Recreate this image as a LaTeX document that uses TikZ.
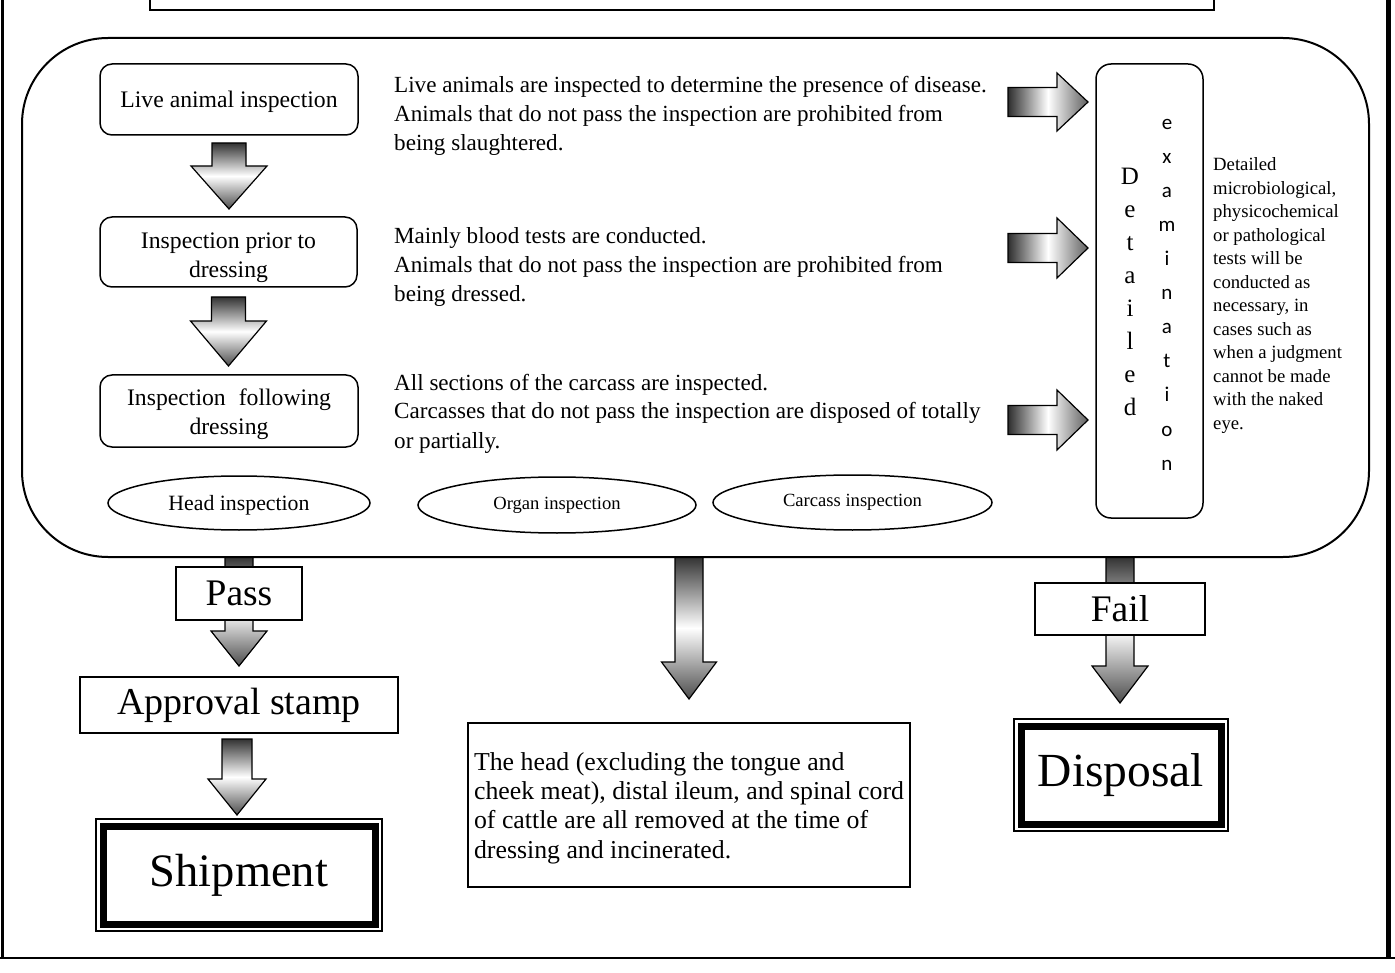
\documentclass[tikz,border=0pt]{standalone}
\usepackage{fontspec}
\setmainfont{Liberation Serif}
\newfontfamily\calib{Carlito}
\usetikzlibrary{calc,shapes.geometric}
\pgfdeclarelayer{bg}
\pgfsetlayers{bg,main}
\newcommand\fs[2]{\fontsize{#1}{#2}\selectfont}
% vertical arrow: from, tip, shaft half width, head half width, head length
\newcommand\vArrow[5]{%
  \begin{pgfonlayer}{bg}
  \path[vshade] let \p1=#1, \p2=#2 in
    (\x1-#3pt,\y1) -- (\x1+#3pt,\y1) -- (\x1+#3pt,\y2+#5pt) -- (\x1+#4pt,\y2+#5pt)
    -- (\x1,\y2) -- (\x1-#4pt,\y2+#5pt) -- (\x1-#3pt,\y2+#5pt) -- cycle;
  \end{pgfonlayer}}
% horizontal arrow: from, tip, shaft half height, head half height, head length
\newcommand\hArrow[5]{%
  \begin{pgfonlayer}{bg}
  \path[hshade] let \p1=#1, \p2=#2 in
    (\x1,\y1+#3pt) -- (\x2-#5pt,\y1+#3pt) -- (\x2-#5pt,\y1+#4pt) -- (\x2,\y1)
    -- (\x2-#5pt,\y1-#4pt) -- (\x2-#5pt,\y1-#3pt) -- (\x1,\y1-#3pt) -- cycle;
  \end{pgfonlayer}}
\begin{document}
\begin{tikzpicture}[x=1pt,y=-1pt,
  box/.style={draw, line width=1.5pt, rounded corners=12pt, inner sep=0pt, outer sep=0pt, align=center, font=\fs{23.7}{29}},
  sq/.style={draw, line width=1.5pt, inner sep=0pt, outer sep=0pt, align=center, fill=white},
  oval/.style={draw, ellipse, line width=1.5pt, inner sep=0pt, outer sep=0pt},
  vshade/.style={draw, line width=1.2pt, top color=black!80, bottom color=black!70, middle color=white},
  hshade/.style={draw, line width=1.2pt, left color=black!82, right color=black!62, middle color=white},
  desc/.style={anchor=base west, align=left, inner sep=0pt, font=\fs{23.1}{29}},
  dbl/.style={sq, line width=1.5pt},
  thickband/.style={line width=7pt}
]
\useasboundingbox (0,0) rectangle (1395,973);
% outer frame
\draw[line width=3pt] (2.5,-5) -- (2.5,958);
\draw[line width=5pt] (1388,-5) -- (1388,958);
\draw[line width=2.5pt] (0,958) -- (1395,958);
% top box
\node[draw, line width=1.5pt, minimum width=1064pt, minimum height=20pt, inner sep=0pt, outer sep=0pt] (topbox) at (682,0) {};
% main rounded frame
\node[draw, line width=2pt, rounded corners=86pt, minimum width=1347pt, minimum height=519pt, inner sep=0pt, outer sep=0pt] (main) at (695.5,297.5) {};

% flow boxes
\node[box, minimum width=258pt, minimum height=71pt] (live) at (229,99.5) {\rule{0pt}{22pt}Live animal inspection};
\node[box, minimum width=257pt, minimum height=70pt] (prior) at (228.5,252) {\rule{0pt}{27.5pt}Inspection prior to\\dressing};
\node[box, minimum width=258pt, minimum height=72pt] (follow) at (229,411) {\rule{0pt}{24pt}Inspection\hspace{13pt}following\\dressing};

\vArrow{($(live.south)+(0,8)$)}{($(prior.north)+(0,-8)$)}{17}{38}{43}
\vArrow{($(prior.south)+(0,10)$)}{($(follow.north)+(0,-9)$)}{17}{38}{45}

% descriptions (anchor = baseline of last line)
\node[desc] (d1) at (394,151) {Live animals are inspected to determine the presence of disease.\\Animals that do not pass the inspection are prohibited from\\being slaughtered.};
\node[desc] (d2) at (394,302) {Mainly blood tests are conducted.\\Animals that do not pass the inspection are prohibited from\\being dressed.};
\node[desc] (d3) at (394,448) {All sections of the carcass are inspected.\\Carcasses that do not pass the inspection are disposed of totally\\or partially.};

% detailed examination box
\node[draw, line width=1.5pt, rounded corners=15pt, minimum width=107pt, minimum height=454pt, inner sep=0pt, outer sep=0pt] (exam) at (1149.5,291) {};
\foreach \l [count=\i from 0] in {D,e,t,a,i,l,e,d}
  \node[anchor=base, inner sep=0pt, font=\fs{25}{30}] (det\i) at (1130,185+33*\i) {\l};
\foreach \l [count=\i from 0] in {e,x,a,m,i,n,a,t,i,o,n}
  \node[anchor=base, inner sep=0pt, font=\calib\fs{21}{25}] (exa\i) at (1167,130+34*\i) {\l};

\node[anchor=base west, align=left, inner sep=0pt, font=\fs{18.7}{23.5}] (note) at (1213,429) {Detailed\\microbiological,\\physicochemical\\or pathological\\tests will be\\conducted as\\necessary, in\\cases such as\\when a judgment\\cannot be made\\with the naked\\eye.};

\coordinate (h1) at (1008,102);
\coordinate (h2) at (1008,248);
\coordinate (h3) at (1008,420);
\hArrow{(h1)}{($(exam.west |- h1)+(-8,0)$)}{14.5}{29}{31}
\hArrow{(h2)}{($(exam.west |- h2)+(-8,0)$)}{14.5}{30}{31}
\hArrow{(h3)}{($(exam.west |- h3)+(-8,0)$)}{14.5}{30}{31}

% ellipses
\node[oval, minimum width=262pt, minimum height=54pt, font=\fs{21.8}{25}] (head) at (239,503) {\rule{0pt}{19pt}Head inspection};
\node[oval, minimum width=278pt, minimum height=56pt, font=\fs{18.6}{22}] (organ) at (557,505) {Organ inspection};
\node[oval, minimum width=279pt, minimum height=55pt, font=\fs{18.6}{22}] (carcass) at (852.5,502.5) {Carcass inspection};

% lower part
\node[sq, minimum width=126pt, minimum height=53pt, font=\fs{37.5}{40}] (pass) at (239,593.5) {Pass};
\node[sq, minimum width=318pt, minimum height=56pt, font=\fs{38}{40}] (approval) at (239,705) {Approval stamp};
\node[dbl, minimum width=286pt, minimum height=112pt, font=\fs{46.5}{50}] (shipment) at (239,875) {Shipment};
\draw[thickband] ($(shipment.north west)+(7,7)$) rectangle ($(shipment.south east)+(-7,-7)$);

\node[sq, minimum width=442pt, minimum height=164pt, align=left, font=\fs{25.8}{29.3}] (midbox) at (689,805) {\rule{0pt}{24pt}The head (excluding the tongue and\\cheek meat), distal ileum, and spinal cord\\of cattle are all removed at the time of\\dressing and incinerated.};

\node[sq, minimum width=170pt, minimum height=52pt, font=\fs{37.5}{40}] (fail) at (1120,609) {Fail};
\node[dbl, minimum width=214pt, minimum height=112pt, font=\fs{47.5}{50}] (disposal) at (1121,775) {Disposal};
\draw[thickband] ($(disposal.north west)+(7,7)$) rectangle ($(disposal.south east)+(-7,-7)$);

\vArrow{(pass.north |- main.south)}{($(approval.north)+(0,-11)$)}{14}{28}{35}
\vArrow{($(approval.south)+(-2,6)$)}{($(shipment.north)+(-2,-4)$)}{15}{29}{36}
\vArrow{(midbox.north |- main.south)}{($(midbox.north)+(0,-24)$)}{14}{27.5}{37}
\vArrow{(fail.north |- main.south)}{($(disposal.north)+(-1,-16)$)}{14}{28}{37}
\end{tikzpicture}
\end{document}
